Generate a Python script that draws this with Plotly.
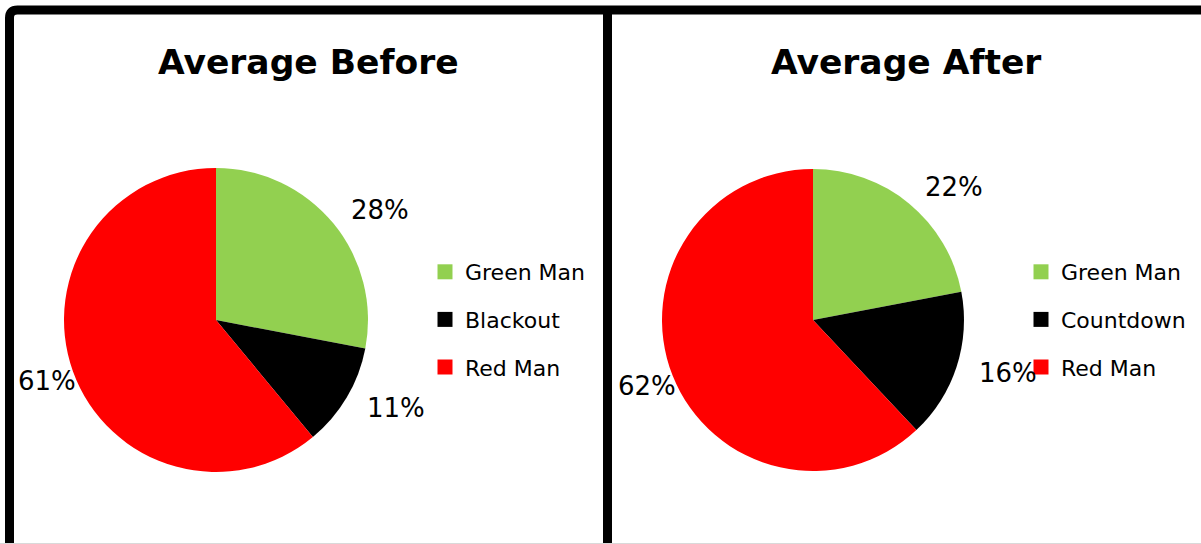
import math
import plotly.graph_objects as go

W, H = 1201, 544

labels_before = ["Green Man", "Blackout", "Red Man"]
values_before = [28, 11, 61]
labels_after = ["Green Man", "Countdown", "Red Man"]
values_after = [22, 16, 62]
colors = ["#92D050", "#000000", "#FF0000"]
titles = ["Average Before", "Average After"]

FONT = "DejaVu Sans"

def px(x):
    return x / W

def py(y):
    return 1 - y / H

# pie geometry (pixel space)
pies = [
    dict(cx=216, cy=320, r=152, labels=labels_before, values=values_before,
         legend="legend", title_x=308),
    dict(cx=813, cy=320, r=151, labels=labels_after, values=values_after,
         legend="legend2", title_x=906),
]

fig = go.Figure()
annotations = []

for i, p in enumerate(pies):
    cx, cy, r = p["cx"], p["cy"], p["r"]
    fig.add_trace(go.Pie(
        labels=p["labels"], values=p["values"], sort=False,
        direction="clockwise", rotation=0,
        marker=dict(colors=colors, line=dict(width=0)),
        textinfo="none", hoverinfo="label+percent", showlegend=False,
        domain=dict(x=[px(cx - r), px(cx + r)], y=[py(cy + r), py(cy - r)]),
    ))
    # percentage labels placed outside each slice
    total = sum(p["values"])
    cum = 0
    for v in p["values"]:
        mid = (cum + v / 2) / total * 2 * math.pi
        cum += v
        sx, sy = math.sin(mid), -math.cos(mid)
        right = sx >= 0
        d = r + (21 if right else 28)
        annotations.append(dict(
            x=px(cx + d * sx), y=py(cy + d * sy), xref="paper", yref="paper",
            text=f"{round(v / total * 100)}%", showarrow=False,
            xanchor="left" if right else "center", yanchor="middle",
            font=dict(family=FONT, size=26, color="#000000"),
        ))
    annotations.append(dict(
        x=px(p["title_x"]), y=py(62), xref="paper", yref="paper",
        text=f"<b>{titles[i]}</b>", showarrow=False,
        xanchor="center", yanchor="middle",
        font=dict(family=FONT, size=34.5, color="#000000"),
    ))
    # legend entries
    for lab, col in zip(p["labels"], colors):
        fig.add_trace(go.Scatter(
            x=[None], y=[None], mode="markers", name=lab,
            marker=dict(symbol="square", size=15, color=col),
            legend=p["legend"], legendgroup=f"{p['legend']}_{lab}",
            showlegend=True,
        ))

legend_common = dict(
    font=dict(family=FONT, size=22, color="#000000"),
    bgcolor="rgba(0,0,0,0)", borderwidth=0, tracegroupgap=16,
    xanchor="left", yanchor="top", itemclick=False, itemdoubleclick=False,
)

shapes = [
    dict(type="path", xref="paper", yref="paper",
         path=(f"M {px(9.5)},{py(H + 5)} L {px(9.5)},{py(18)} "
               f"Q {px(9.5)},{py(10)} {px(17.5)},{py(10)} L {px(W + 5)},{py(10)}"),
         line=dict(color="#000000", width=9)),
    dict(type="line", xref="paper", yref="paper",
         x0=px(607.5), x1=px(607.5), y0=py(10), y1=py(H + 5),
         line=dict(color="#000000", width=9)),
    dict(type="line", xref="paper", yref="paper",
         x0=0, x1=1, y0=py(543.5), y1=py(543.5),
         line=dict(color="#d9d9d9", width=1)),
]

fig.update_layout(
    width=W, height=H, margin=dict(l=0, r=0, t=0, b=0),
    paper_bgcolor="#ffffff", plot_bgcolor="#ffffff",
    xaxis=dict(visible=False), yaxis=dict(visible=False),
    legend=dict(x=px(425), y=py(251), **legend_common),
    legend2=dict(x=px(1021), y=py(251), **legend_common),
    annotations=annotations, shapes=shapes,
)

fig.write_html(
    "out.html",
    config={"displayModeBar": False},
    post_script="document.body.style.margin='0';document.body.style.overflow='hidden';",
)
